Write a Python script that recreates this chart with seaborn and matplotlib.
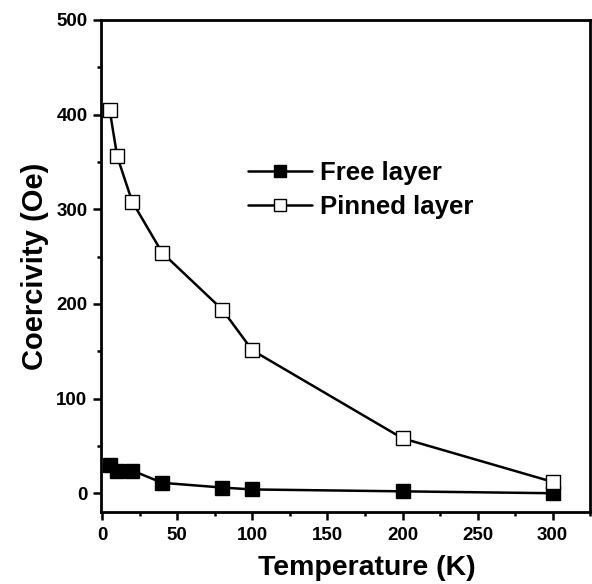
import matplotlib
matplotlib.use("Agg")
import matplotlib.pyplot as plt
import pandas as pd
import seaborn as sns
from matplotlib.ticker import MultipleLocator

temperature = [5, 10, 20, 40, 80, 100, 200, 300]
free_layer = [30, 24, 24, 11, 6, 4, 2, 0]
pinned_layer = [405, 356, 308, 254, 194, 151, 58, 12]

sns.set_theme(style="white")
plt.rcParams["font.family"] = ["Liberation Sans", "DejaVu Sans"]
plt.rcParams["font.weight"] = "bold"
for key in ["text.color", "axes.labelcolor", "xtick.color", "ytick.color"]:
    plt.rcParams[key] = "black"

df = pd.DataFrame({
    "T": temperature * 2,
    "Hc": free_layer + pinned_layer,
    "layer": ["Free layer"] * len(temperature) + ["Pinned layer"] * len(temperature),
})

fig = plt.figure(figsize=(5.92, 5.84), dpi=100)
ax = fig.add_axes([0.170, 0.123, 0.827, 0.843])

styles = {"Free layer": "black", "Pinned layer": "white"}
for name, face in styles.items():
    sub = df[df["layer"] == name]
    sns.lineplot(data=sub, x="T", y="Hc", ax=ax, color="black", lw=1.8,
                 marker="s", markersize=10, markerfacecolor=face,
                 markeredgecolor="black", markeredgewidth=1.0, label=name,
                 zorder=3 if face == "white" else 2)

ax.set_xlim(-1, 325)
ax.set_ylim(-20, 500)
ax.xaxis.set_major_locator(MultipleLocator(50))
ax.xaxis.set_minor_locator(MultipleLocator(25))
ax.yaxis.set_major_locator(MultipleLocator(100))
ax.yaxis.set_minor_locator(MultipleLocator(50))
ax.tick_params(axis="both", which="major", direction="out", length=5.5, width=1.8,
               labelsize=13.5, bottom=True, left=True, top=False, right=False)
ax.tick_params(axis="both", which="minor", direction="out", length=3, width=1.8,
               bottom=True, left=True, top=False, right=False)
ax.tick_params(axis="x", which="major", pad=5)
ax.tick_params(axis="y", which="major", pad=4)
for lab in ax.get_xticklabels() + ax.get_yticklabels():
    lab.set_fontweight("bold")
for sp in ax.spines.values():
    sp.set_color("black")
    sp.set_linewidth(2)

ax.set_xlabel("Temperature (K)", fontsize=20.5, fontweight="bold")
ax.xaxis.set_label_coords(0.544, -0.086)
ax.set_ylabel("Coercivity (Oe)", fontsize=21, fontweight="bold", labelpad=5)

leg = ax.legend(loc="upper left", bbox_to_anchor=(0.28, 0.735), frameon=False,
                prop={"size": 18.5, "weight": "bold"}, handlelength=2.5,
                handletextpad=0.3, labelspacing=0.42, borderaxespad=0)
for h in leg.legend_handles:
    h.set_markersize(9)

fig.savefig("out.png", dpi=100)
